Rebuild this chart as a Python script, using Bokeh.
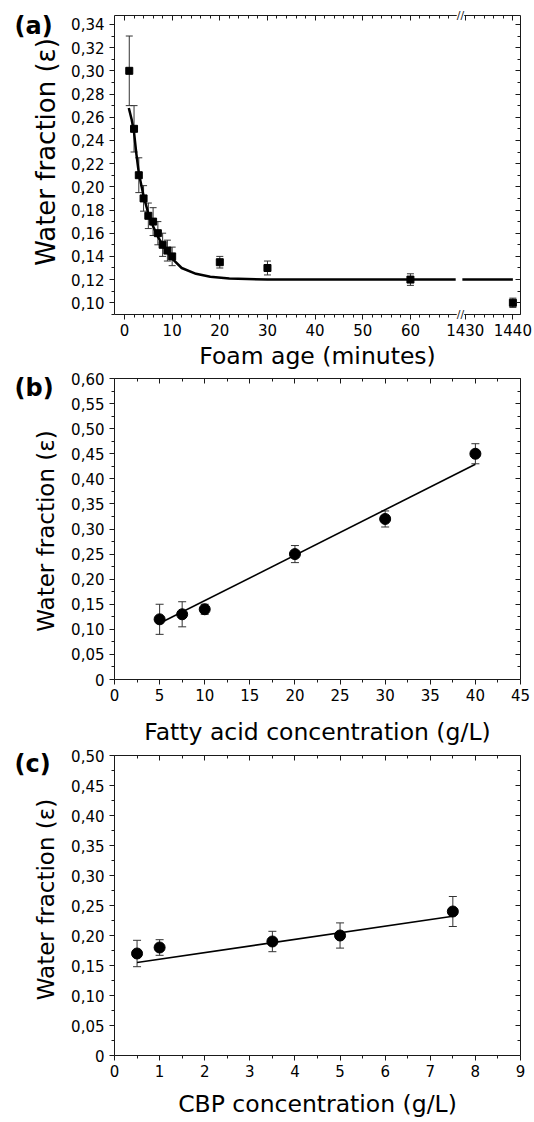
import math
from bokeh.plotting import figure
from bokeh.models import (ColumnDataSource, Whisker, TeeHead, FixedTicker, LinearAxis,
                          CustomJSTickFormatter, Label, Range1d)
from bokeh.layouts import column
from bokeh.embed import file_html
from bokeh.resources import INLINE

# ---------------- data ----------------
# (a) water fraction vs foam age (minutes), broken x axis 70 | 1430
age_min = [1, 2, 3, 4, 5, 6, 7, 8, 9, 10, 20, 30, 60, 1440]
water_a = [0.30, 0.25, 0.21, 0.19, 0.175, 0.17, 0.16, 0.15, 0.145, 0.14, 0.135, 0.13, 0.12, 0.10]
err_a = [0.03, 0.02, 0.015, 0.011, 0.011, 0.012, 0.01, 0.01, 0.009, 0.008, 0.005, 0.006, 0.005, 0.004]
fit_a_t = [0.9, 1.5, 2, 2.5, 3, 4, 5, 6, 7, 8, 9, 10, 12, 15, 18, 22, 30, 69.5]
fit_a_y = [0.268, 0.258, 0.247, 0.228, 0.212, 0.192, 0.177, 0.166, 0.157, 0.150, 0.144,
           0.138, 0.130, 0.125, 0.1225, 0.121, 0.120, 0.120]
fit_a2_t = [1429.4, 1440]
fit_a2_y = [0.120, 0.120]
xticks_a = [0, 10, 20, 30, 40, 50, 60, 1430, 1440]
yticks_a = [0.10, 0.12, 0.14, 0.16, 0.18, 0.20, 0.22, 0.24, 0.26, 0.28, 0.30, 0.32, 0.34]

# (b) water fraction vs fatty acid concentration (g/L)
fatty_acid = [5, 7.5, 10, 20, 30, 40]
water_b = [0.12, 0.13, 0.14, 0.25, 0.32, 0.45]
err_b = [0.03, 0.025, 0.01, 0.017, 0.016, 0.02]
fit_b_x = [5, 40]
fit_b_y = [0.112, 0.429]
xticks_b = [0, 5, 10, 15, 20, 25, 30, 35, 40, 45]
yticks_b = [0, 0.05, 0.10, 0.15, 0.20, 0.25, 0.30, 0.35, 0.40, 0.45, 0.50, 0.55, 0.60]

# (c) water fraction vs CBP concentration (g/L)
cbp = [0.5, 1, 3.5, 5, 7.5]
water_c = [0.17, 0.18, 0.19, 0.20, 0.24]
err_c = [0.022, 0.013, 0.017, 0.021, 0.025]
fit_c_x = [0.5, 7.5]
fit_c_y = [0.155, 0.232]
xticks_c = [0, 1, 2, 3, 4, 5, 6, 7, 8, 9]
yticks_c = [0, 0.05, 0.10, 0.15, 0.20, 0.25, 0.30, 0.35, 0.40, 0.45, 0.50]

FONT = "DejaVu Sans"
INK = "#1a1a1a"
YTITLE = "Water fraction (ε)"
BREAK_POS = 70.5          # where the axis break sits (axis units)
SEG2_START = 71.5         # axis position of 1430
SEG2_ORIGIN = 1430


def brk(t):
    """map minutes onto the broken axis"""
    return t if t < 1000 else t - SEG2_ORIGIN + SEG2_START


blank = CustomJSTickFormatter(code="return ''")
comma2 = CustomJSTickFormatter(code="return tick.toFixed(2).replace('.', ',')")
comma2z = CustomJSTickFormatter(
    code="return Math.abs(tick) < 1e-9 ? '0' : tick.toFixed(2).replace('.', ',')")
intfmt = CustomJSTickFormatter(code="return Math.round(tick).toString()")
brkfmt = CustomJSTickFormatter(
    code=f"return tick > {BREAK_POS} ? Math.round(tick - {SEG2_START} + {SEG2_ORIGIN}).toString()"
         f" : Math.round(tick).toString()")


def make_fig(h, top, bottom, xr, yr):
    p = figure(width=534, height=h, x_range=Range1d(*xr), y_range=Range1d(*yr),
               output_backend="svg", toolbar_location=None,
               min_border_left=112, min_border_right=14,
               min_border_top=top, min_border_bottom=bottom,
               x_axis_type=None, y_axis_type=None)
    p.outline_line_color = None
    p.background_fill_color = "white"
    p.border_fill_color = "white"
    return p


def add_axes(p, xt, yt, xfmt, yfmt, xlabel, xstand):
    bottom = LinearAxis(ticker=xt, formatter=xfmt, axis_label=xlabel)
    left = LinearAxis(ticker=yt, formatter=yfmt)
    top = LinearAxis(ticker=xt, formatter=blank)
    right = LinearAxis(ticker=yt, formatter=blank)
    for ax in (bottom, left):
        ax.major_tick_out = 5
        ax.major_tick_in = 0
        ax.minor_tick_out = 3
        ax.minor_tick_in = 0
        ax.major_label_text_font = FONT
        ax.major_label_text_font_size = "15px"
        ax.major_label_text_color = "black"
    bottom.major_label_standoff = 4
    bottom.axis_label_standoff = xstand
    bottom.axis_label_text_font = FONT
    bottom.axis_label_text_font_style = "normal"
    bottom.axis_label_text_color = "black"
    bottom.axis_label_text_font_size = "23.5px"
    left.major_label_standoff = 5
    for ax in (top, right):
        ax.major_tick_out = 0
        ax.major_tick_in = 5
        ax.minor_tick_out = 0
        ax.minor_tick_in = 3
        ax.major_label_text_font_size = "0px"
        ax.major_label_standoff = 0
    for ax in (bottom, left, top, right):
        ax.axis_line_color = INK
        ax.major_tick_line_color = INK
        ax.minor_tick_line_color = INK
        ax.axis_line_width = 1
    p.add_layout(bottom, "below")
    p.add_layout(left, "left")
    p.add_layout(top, "above")
    p.add_layout(right, "right")


def add_errors(p, x, y, e, head):
    src = ColumnDataSource(dict(x=x, lo=[a - b for a, b in zip(y, e)],
                                up=[a + b for a, b in zip(y, e)]))
    w = Whisker(source=src, base="x", lower="lo", upper="up", dimension="height",
                line_color="#333333", line_width=1,
                lower_head=TeeHead(size=head, line_color="#333333", line_width=1),
                upper_head=TeeHead(size=head, line_color="#333333", line_width=1))
    p.add_layout(w)


def side_texts(p, tag, xr, yr, tag_dy, ytitle_size, ytitle_dy):
    # y-axis title (rotated) and panel tag, both living in the left side panel
    p.add_layout(Label(x=xr[0], y=(yr[0] + yr[1]) / 2, x_offset=-69, y_offset=ytitle_dy,
                       text=YTITLE, angle=math.pi / 2, text_font=FONT,
                       text_font_size=ytitle_size, text_color="black",
                       text_align="center", text_baseline="middle"), "left")
    p.add_layout(Label(x=xr[0], y=yr[1], x_offset=-100, y_offset=tag_dy, text=tag,
                       text_font=FONT, text_font_style="bold", text_font_size="24px",
                       text_baseline="top", text_align="left", text_color="black"), "left")


# ---------------- panel (a) ----------------
xr_a = (-2.1, 83.1)
yr_a = (0.0899, 0.3477)
pa = make_fig(372, 15, 57, xr_a, yr_a)
xt_a = FixedTicker(ticks=[brk(t) for t in xticks_a],
                   minor_ticks=[float(v) for v in range(2, 70, 2)] +
                               [brk(v) for v in (1432, 1434, 1436, 1438)])
yt_a = FixedTicker(ticks=yticks_a,
                   minor_ticks=[round(0.09 + 0.02 * i, 2) for i in range(14)])
add_axes(pa, xt_a, yt_a, brkfmt, comma2, "Foam age (minutes)", 3)
xa = [brk(t) for t in age_min]
add_errors(pa, xa, water_a, err_a, 7)
pa.line([brk(t) for t in fit_a_t], fit_a_y, line_color="black", line_width=2.5)
pa.line([brk(t) for t in fit_a2_t], fit_a2_y, line_color="black", line_width=2.5)
pa.scatter(xa, water_a, marker="square", size=7, fill_color="black", line_color="black")
# axis-break marks
pa.add_layout(Label(x=BREAK_POS, y=yr_a[1], text="//", text_align="center",
                    text_baseline="middle", text_font=FONT, text_font_size="11px",
                    text_color=INK, background_fill_color="white"), "above")
pa.add_layout(Label(x=BREAK_POS, y=yr_a[0], text="//", text_align="center",
                    text_baseline="middle", text_font=FONT, text_font_size="11px",
                    text_color=INK, background_fill_color="white"), "right")
side_texts(pa, "(a)", xr_a, yr_a, 4, "26px", 13)

# ---------------- panel (b) ----------------
xr_b = (0, 45)
yr_b = (0, 0.60)
pb = make_fig(376, 6, 69, xr_b, yr_b)
xt_b = FixedTicker(ticks=xticks_b, minor_ticks=[2.5 + 5 * i for i in range(9)])
yt_b = FixedTicker(ticks=yticks_b, minor_ticks=[round(0.025 + 0.05 * i, 3) for i in range(12)])
add_axes(pb, xt_b, yt_b, intfmt, comma2z, "Fatty acid concentration (g/L)", 14)
add_errors(pb, fatty_acid, water_b, err_b, 8)
pb.line(fit_b_x, fit_b_y, line_color="black", line_width=1.6)
pb.scatter(fatty_acid, water_b, marker="circle", size=11, fill_color="black", line_color="black")
side_texts(pb, "(b)", xr_b, yr_b, 5, "23px", -2)

# ---------------- panel (c) ----------------
xr_c = (0, 9)
yr_c = (0, 0.50)
pc = make_fig(374, 7, 67, xr_c, yr_c)
xt_c = FixedTicker(ticks=xticks_c, minor_ticks=[0.5 + i for i in range(9)])
yt_c = FixedTicker(ticks=yticks_c, minor_ticks=[round(0.025 + 0.05 * i, 3) for i in range(10)])
add_axes(pc, xt_c, yt_c, intfmt, comma2z, "CBP concentration (g/L)", 10)
add_errors(pc, cbp, water_c, err_c, 8)
pc.line(fit_c_x, fit_c_y, line_color="black", line_width=1.6)
pc.scatter(cbp, water_c, marker="circle", size=11, fill_color="black", line_color="black")
side_texts(pc, "(c)", xr_c, yr_c, 6, "23px", 6)

layout = column(pa, pb, pc, spacing=0)
open("out.html", "w").write(file_html(layout, INLINE))
